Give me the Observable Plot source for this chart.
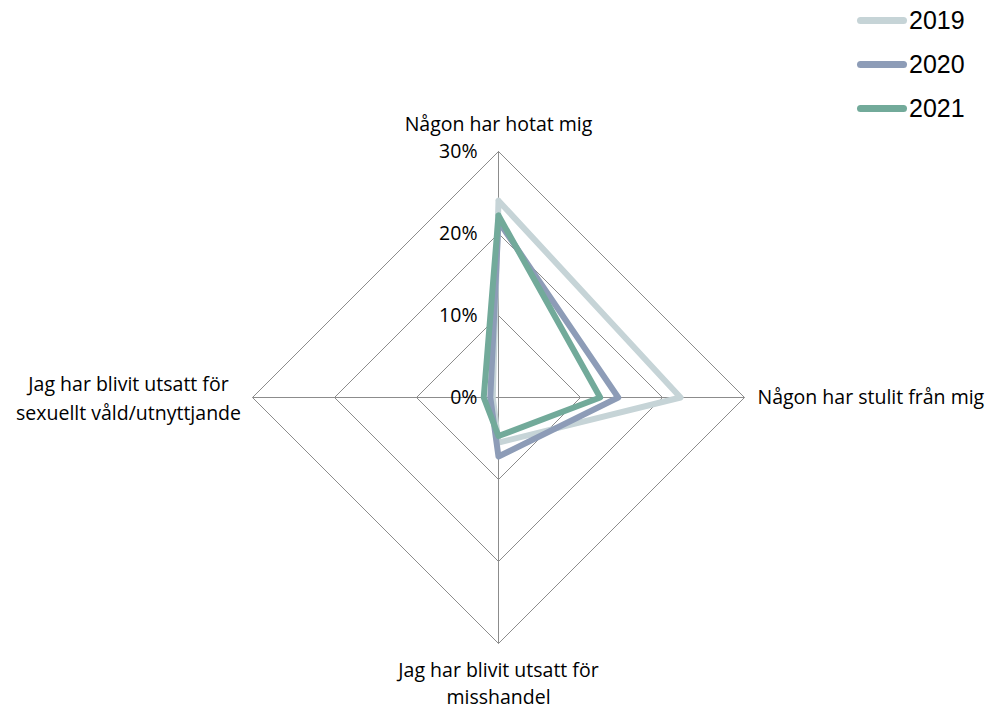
<!DOCTYPE html>
<html>
<head>
<meta charset="utf-8">
<script src="https://cdn.jsdelivr.net/npm/d3@7"></script>
<script src="https://cdn.jsdelivr.net/npm/@observablehq/plot@0.6"></script>
<style>
  html, body { margin: 0; padding: 0; background: #fff; }
  #wrap { position: relative; width: 994px; height: 711px; }
  #legend { position: absolute; left: 857px; top: -2px; font-family: "Liberation Sans", Arial, sans-serif; font-size: 25px; color: #000; }
  .item { display: flex; align-items: center; height: 44px; }
  .swatch { width: 50px; height: 7px; border-radius: 4px; margin-right: 2px; }
</style>
</head>
<body>
<div id="wrap">
  <div id="chart"></div>
  <div id="legend"></div>
</div>
<script>
const categories = [
  "Någon har hotat mig",
  "Någon har stulit från mig",
  "Jag har blivit utsatt för misshandel",
  "Jag har blivit utsatt för sexuellt våld/utnyttjande"
];
const years = ["2019", "2020", "2021"];
const values2019 = [24.0, 22.2, 5.5, 0.7];
const values2020 = [21.5, 14.6, 7.2, 1.0];
const values2021 = [22.2, 12.4, 4.7, 1.8];
const colors = ["#c6d4d7", "#8d9cb7", "#72aa9a"];
const ticks = [0, 10, 20, 30];
const tickLabels = ["0%", "10%", "20%", "30%"];

const seriesValues = [values2019, values2020, values2021];
const n = categories.length;
const ang = i => (i * 2 * Math.PI) / n;
const px = (i, r) => r * Math.sin(ang(i));
const py = (i, r) => r * Math.cos(ang(i));

const pts = [];
years.forEach((yr, s) => {
  for (let k = 0; k <= n; k++) {
    const i = k % n;
    pts.push({year: yr, x: px(i, seriesValues[s][i]), y: py(i, seriesValues[s][i])});
  }
});
const rings = [];
ticks.slice(1).forEach(t => {
  for (let k = 0; k <= n; k++) {
    const i = k % n;
    rings.push({t, x: px(i, t), y: py(i, t)});
  }
});
const maxR = ticks[ticks.length - 1];
const spokes = categories.map((c, i) => ({x1: 0, y1: 0, x2: px(i, maxR), y2: py(i, maxR)}));
const tickData = ticks.map((t, j) => ({x: 0, y: t, label: tickLabels[j]}));

const labelData = categories.map((c, i) => ({i, x: px(i, maxR), y: py(i, maxR), label: c}));
const splitLabel = {
  0: "Någon har hotat mig",
  1: "Någon har stulit från mig",
  2: "Jag har blivit utsatt för\nmisshandel",
  3: "Jag har blivit utsatt för\nsexuellt våld/utnyttjande"
};

const k = 8.2; // px per %
const cx = 498, cy = 397;
const font = "'Open Sans', sans-serif";
const fs = 19.5;

const chart = Plot.plot({
  width: 994,
  height: 711,
  margin: 0,
  x: {domain: [-cx / k, (994 - cx) / k], range: [0, 994], axis: null},
  y: {domain: [-(711 - cy) / k, cy / k], range: [711, 0], axis: null},
  style: {fontFamily: font, background: "#fff"},
  marks: [
    Plot.line(rings, {x: "x", y: "y", z: "t", stroke: "#8c8c8c", strokeWidth: 1}),
    Plot.link(spokes, {x1: "x1", y1: "y1", x2: "x2", y2: "y2", stroke: "#8c8c8c", strokeWidth: 1}),
    Plot.text(tickData, {x: "x", y: "y", text: "label", textAnchor: "end", dx: -21, fontSize: fs, fill: "#000"}),
    Plot.line(pts, {x: "x", y: "y", z: "year", stroke: d => colors[years.indexOf(d.year)], strokeWidth: 6, strokeLinejoin: "round"}),
    Plot.text(labelData.filter(d => d.i === 0), {x: "x", y: "y", text: d => splitLabel[d.i], dy: -27, fontSize: fs, fill: "#000"}),
    Plot.text(labelData.filter(d => d.i === 1), {x: "x", y: "y", text: d => splitLabel[d.i], textAnchor: "start", dx: 13, fontSize: fs, fill: "#000"}),
    Plot.text(labelData.filter(d => d.i === 2), {x: "x", y: "y", text: d => splitLabel[d.i], dy: 38, fontSize: fs, lineHeight: 1.4, fill: "#000"}),
    Plot.text(labelData.filter(d => d.i === 3), {x: "x", y: "y", text: d => splitLabel[d.i], dx: -124, dy: -1, fontSize: fs, lineHeight: 1.5, fill: "#000"})
  ]
});
document.getElementById("chart").appendChild(chart);

const legend = document.getElementById("legend");
years.forEach((yr, s) => {
  const item = document.createElement("div");
  item.className = "item";
  const sw = document.createElement("span");
  sw.className = "swatch";
  sw.style.background = colors[s];
  const tx = document.createElement("span");
  tx.textContent = yr;
  item.appendChild(sw);
  item.appendChild(tx);
  legend.appendChild(item);
});
</script>
</body>
</html>
